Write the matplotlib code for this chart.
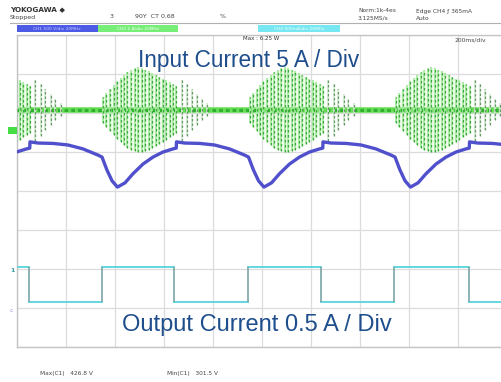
import matplotlib.pyplot as plt
from matplotlib.patches import Rectangle

W, H = 502, 382

# time axis: 200 ms/div, 10 div ; vertical 8 div
burst_starts = [-247, 351, 949, 1547]          # ms, start of each input-current burst
burst_off = [0, 14, 29, 43, 57, 72, 86, 100, 115, 129, 143,
             158, 172, 186, 201, 215, 229, 244, 258, 272, 287, 300]
burst_top = [2.41, 2.51, 2.62, 2.72, 2.82, 2.90, 2.97, 3.05, 3.10, 3.15, 3.18,
             3.15, 3.10, 3.08, 3.03, 2.97, 2.92, 2.87, 2.85, 2.79, 2.74, 2.69]
burst_bot = [1.74, 1.64, 1.54, 1.44, 1.33, 1.26, 1.18, 1.10, 1.05, 1.03, 1.00,
             1.00, 1.03, 1.05, 1.10, 1.15, 1.21, 1.26, 1.31, 1.38, 1.44, 1.49]
ring_off = [322, 343, 363, 384, 404, 425]
ring_top = [2.85, 2.74, 2.62, 2.49, 2.36, 2.26]
ring_bot = [1.28, 1.41, 1.56, 1.69, 1.82, 1.92]
green_base = 2.08

# blue trace, one period starting at the jump
blue_jumps = [-545, 53, 651, 1249, 1847]
blue_off = [0, 33, 94, 155, 216, 278, 294, 314, 335, 357, 388, 420, 461, 502, 543, 584, 597]
blue_val = [1.26, 1.23, 1.22, 1.18, 1.08, 0.92, 0.87, 0.54, 0.26, 0.10, 0.21, 0.44,
            0.69, 0.87, 1.00, 1.08, 1.10]

# output current square wave
sq_edges = [0, 49, 347, 641, 943, 1241, 1539, 1845, 2000]
sq_level = [-1.95, -2.85, -1.95, -2.85, -1.95, -2.85, -1.95, -2.85]


def fx(x):
    return x / W


def fy(y):
    return 1 - y / H


fig = plt.figure(figsize=(W / 100, H / 100), dpi=100)
ax = fig.add_axes([fx(17), fy(347), 490 / W, 312 / H])
ax.set_xlim(0, 2000)
ax.set_ylim(-4, 4)
ax.set_xticks(range(0, 2001, 200))
ax.set_yticks(range(-4, 5))
ax.grid(True, color='#dcdcdc', lw=0.9)
ax.tick_params(length=0, labelbottom=False, labelleft=False)
for s in ax.spines.values():
    s.set_color('#c4c4c4')
    s.set_linewidth(1)
ax.spines['right'].set_visible(False)

# green: baseline band
ax.plot([0, 2000], [green_base, green_base], color='#66dd55', lw=4, zorder=2)
ax.plot([0, 2000], [green_base, green_base], color='#2fb02f', lw=2.2,
        ls=(0, (1.2, 1)), zorder=3)

# green bursts
for b in burst_starts:
    ts = [b + o for o in burst_off]
    ax.fill_between(ts, burst_bot, burst_top, color='#c8f2c0', alpha=0.3, lw=0, zorder=2)
    ax.vlines(ts, burst_bot, burst_top, color='#a6eaa0', lw=1.3, zorder=3)
    ax.vlines(ts, burst_bot, burst_top, color='#3aa83a', lw=0.9,
              linestyles=(0, (2, 2)), zorder=4)
    tr = [b + o for o in ring_off]
    ax.vlines(tr, ring_bot, ring_top, color='#d2ead0', lw=1.3, zorder=3)
    ax.vlines(tr, ring_bot, ring_top, color='#6a9a6a', lw=0.9,
              linestyles=(0, (2, 1.6)), zorder=4)

# blue trace
bt, bv = [], []
for j in blue_jumps:
    bt += [j + o for o in blue_off]
    bv += blue_val
ax.plot(bt, bv, color='#5050cc', lw=2.4, zorder=5)

# output current square wave
for i, lv in enumerate(sq_level):
    ax.plot([sq_edges[i], sq_edges[i + 1]], [lv, lv], color='#63d7de', lw=1.4, zorder=5)
ax.vlines(sq_edges[1:-1], min(sq_level), max(sq_level), color='#7aa6a8', lw=1.2, zorder=5)

# overlay labels
fig.text(fx(249), fy(60), 'Input Current 5 A / Div', ha='center', va='center',
         fontsize=16.3, color='#1f4e8c', family='Liberation Sans')
fig.text(fx(257), fy(325), 'Output Current 0.5 A / Div', ha='center', va='center',
         fontsize=17, color='#1f4e8c', family='Liberation Sans')

# scope header
fig.text(fx(10), fy(9), 'YOKOGAWA \u25c6', fontsize=5.2, weight='bold', color='#333333',
         va='center')
fig.text(fx(10), fy(17), 'Stopped', fontsize=4.5, color='#444444', va='center')
fig.text(fx(110), fy(17), '3', fontsize=4.5, color='#444444', va='center')
fig.text(fx(135), fy(17), '90Y  CT 0.68', fontsize=4.5, color='#444444', va='center')
fig.text(fx(220), fy(17), '%', fontsize=4.5, color='#444444', va='center')
fig.text(fx(358), fy(11), 'Norm:1k-4es', fontsize=4.2, color='#444444', va='center')
fig.text(fx(358), fy(18), '3.125MS/s', fontsize=4.2, color='#444444', va='center')
fig.text(fx(416), fy(11), 'Edge CH4 \u0192 365mA', fontsize=4.2, color='#444444', va='center')
fig.text(fx(416), fy(18), 'Auto', fontsize=4.2, color='#444444', va='center')
fig.add_artist(plt.Line2D([fx(10), 1], [fy(23), fy(23)], color='#b0b0b0', lw=0.8))

# channel bars
fig.add_artist(Rectangle((fx(17), fy(32)), 81 / W, 7 / H, color='#4d5ae6', lw=0))
fig.add_artist(Rectangle((fx(98), fy(32)), 80 / W, 7 / H, color='#77ee77', lw=0))
fig.add_artist(Rectangle((fx(258), fy(32)), 82 / W, 7 / H, color='#77e8f2', lw=0))
fig.text(fx(57), fy(28.5), 'CH1 500 V/div 20MHz', fontsize=3.2, color='#c8ccff',
         ha='center', va='center')
fig.text(fx(138), fy(28.5), 'CH2 5 A/div 20MHz', fontsize=3.2, color='#f4fff4',
         ha='center', va='center')
fig.text(fx(299), fy(28.5), 'CH4 500mA/div 20MHz', fontsize=3.2, color='#f0feff',
         ha='center', va='center')
fig.text(fx(243), fy(39), 'Max : 6.25 W', fontsize=4, color='#333333', va='center')
fig.text(fx(455), fy(40), '200ms/div', fontsize=4.3, color='#444444', va='center')

# ground markers
fig.add_artist(Rectangle((fx(8), fy(134)), 9 / W, 7 / H, color='#44dd44', lw=0))
fig.text(fx(10), fy(271), '1', fontsize=4.5, color='#3aa0a0', weight='bold', va='center')
fig.text(fx(10), fy(311), 'c', fontsize=4.5, color='#9a8fe0', va='center')

# measurements
fig.text(fx(40), fy(374), 'Max(C1)   426.8 V', fontsize=4.2, color='#444444', va='center')
fig.text(fx(167), fy(374), 'Min(C1)   301.5 V', fontsize=4.2, color='#444444', va='center')

fig.savefig('out.png', dpi=100)
